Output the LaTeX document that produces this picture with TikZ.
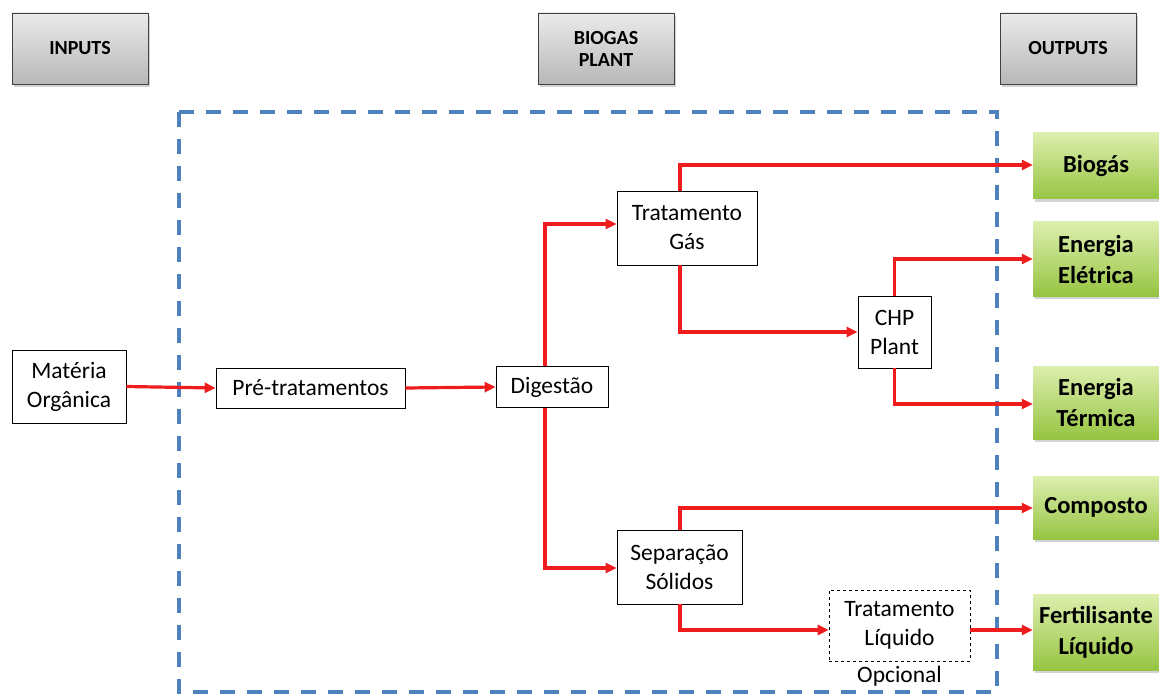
\documentclass[tikz,border=0pt]{standalone}
\usepackage{fontspec}
\setmainfont{Carlito}
\usetikzlibrary{shadows,arrows.meta}
\definecolor{flowred}{HTML}{EE1C1C}
\definecolor{frameblue}{HTML}{4F81BD}
\definecolor{greentop}{HTML}{DDEFAE}
\definecolor{greenbot}{HTML}{96C442}
\tikzset{
  headbox/.style={draw=black!75, line width=0.8pt, top color=white!92!black, bottom color=black!28,
    minimum width=136pt, minimum height=71pt, align=center, font=\fontsize{20}{22}\selectfont\bfseries,
    drop shadow={shadow xshift=2pt, shadow yshift=-3pt, opacity=0.35}},
  stepbox/.style={draw=black, line width=0.8pt, fill=white, align=center, inner sep=0pt,
    font=\fontsize{23.5}{29}\selectfont},
  outbox/.style={draw=none, top color=greentop, bottom color=greenbot, align=center, inner sep=0pt,
    font=\fontsize{24.5}{31}\selectfont\bfseries,
    drop shadow={shadow xshift=2pt, shadow yshift=-3pt, opacity=0.35}},
  flow/.style={draw=flowred, line width=3.2pt, -{Triangle[length=11pt,width=10pt]}},
}
\begin{document}
\begin{tikzpicture}[x=1pt,y=-1pt]
\useasboundingbox (0,0) rectangle (1159,695);

% column headers
\node[headbox] (hin)  at (80,48.5)  {INPUTS};
\node[headbox] (hbio) at (606,48.5) {BIOGAS\\PLANT};
\node[headbox] (hout) at (1068,48.5) {OUTPUTS};

% plant boundary
\draw[frameblue, line width=4pt, dash pattern=on 15pt off 12pt] (179,112) rectangle (997,692);

% process steps
\node[stepbox, minimum width=114pt, minimum height=73pt] (mat) at (69,386.5) {Matéria\\Orgânica};
\node[stepbox, minimum width=189pt, minimum height=40pt] (pre) at (310.5,388) {Pré-tratamentos};
\node[stepbox, minimum width=112pt, minimum height=41pt] (dig) at (552,387) {Digestão};
\node[stepbox, minimum width=140pt, minimum height=74pt] (tgas) at (687,228) {Tratamento\\Gás};
\node[stepbox, minimum width=73pt, minimum height=72pt] (chp) at (894.5,332) {CHP\\Plant};
\node[stepbox, minimum width=125pt, minimum height=74pt] (sep) at (679.5,567) {Separação\\Sólidos};
\node[stepbox, dashed, line width=0.6pt, minimum width=141pt, minimum height=71pt] (tliq) at (899.5,625.5) {Tratamento\\Líquido};
\node[font=\fontsize{23.5}{29}\selectfont, anchor=north, inner sep=1pt, yshift=-4pt] (opc) at (tliq.south) {Opcional};

% products
\node[outbox, minimum width=126pt, minimum height=66pt] (biog) at (1096,166) {Biogás};
\node[outbox, minimum width=126pt, minimum height=74pt] (eel) at (1096,259) {Energia\\Elétrica};
\node[outbox, minimum width=126pt, minimum height=73pt] (eter) at (1096,402.5) {Energia\\Térmica};
\node[outbox, minimum width=126pt, minimum height=63pt] (comp) at (1096,507.5) {Composto};
\node[outbox, minimum width=126pt, minimum height=76pt] (fert) at (1096,632) {Fertilisante\\Líquido};

% flows
\draw[flow] (mat.east) -- (pre.west);
\draw[flow] (pre.east) -- (dig.west);
\draw[flow] (dig.north -| 545,0) |- (tgas.west |- 0,224);
\draw[flow] (dig.south -| 545,0) |- (sep.west |- 0,568);
\draw[flow] (tgas.north -| 680,0) |- (biog.west |- 0,165);
\draw[flow] (tgas.south -| 680,0) |- (chp.west);
\draw[flow] (chp.north) |- (eel.west |- 0,259);
\draw[flow] (chp.south) |- (eter.west |- 0,404);
\draw[flow] (sep.north -| 680,0) |- (comp.west |- 0,508);
\draw[flow] (sep.south -| 680,0) |- (tliq.west |- 0,630);
\draw[flow] (tliq.east |- 0,630) -- (fert.west |- 0,630);
\end{tikzpicture}
\end{document}
